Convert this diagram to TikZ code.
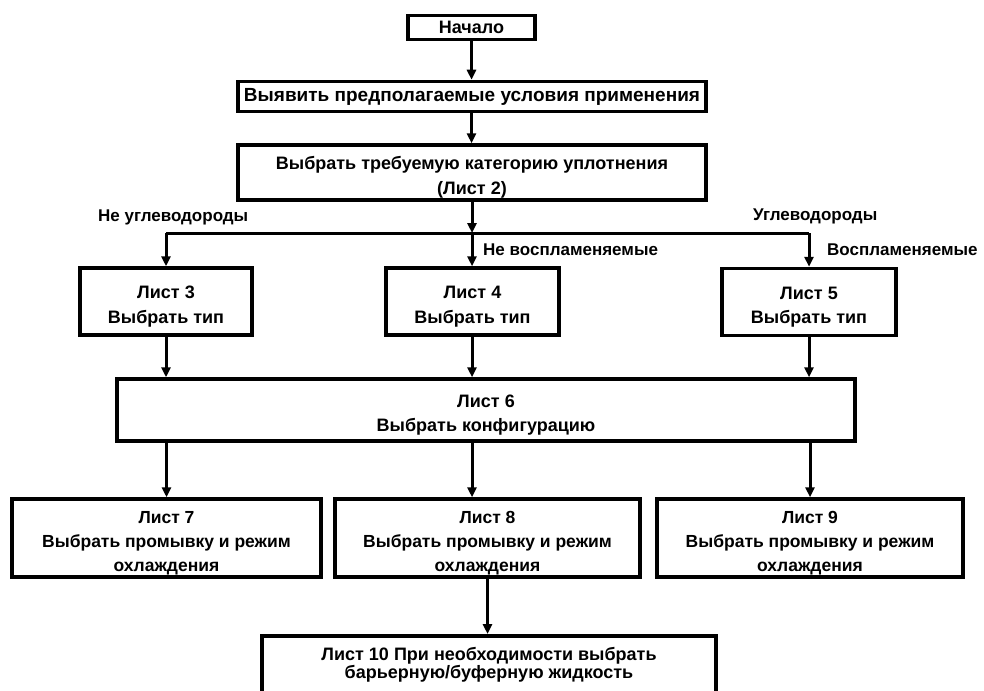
\documentclass[tikz,border=0pt]{standalone}
\usepackage{fontspec}
\setmainfont{Liberation Sans}
\usetikzlibrary{arrows.meta}
\newcommand{\topgap}{\rule{0pt}{23pt}}
\newcommand{\botgap}{\rule[-10pt]{0pt}{10pt}}
\begin{document}
\begin{tikzpicture}[x=1pt,y=-1pt,
  box/.style={draw=black,line width=3.5pt,fill=white,inner sep=0pt,align=center,
    font=\fontsize{18}{24.5}\selectfont\bfseries},
  lbl/.style={inner sep=0pt,anchor=west,font=\fontsize{17}{20}\selectfont\bfseries},
  conn/.style={line width=3pt,-{Triangle[length=10pt,width=9pt]}},
  plain/.style={line width=3pt}]
\useasboundingbox (0,0) rectangle (984,690);
\node[box,minimum width=127pt,minimum height=24pt] (start) at (471.5,27.5) {Начало};
\node[box,minimum width=468pt,minimum height=30pt,font=\fontsize{19}{24}\selectfont\bfseries] (b2) at (472,96.5) {Выявить предполагаемые условия применения};
\node[box,minimum width=468pt,minimum height=55pt] (b3) at (472,172.5) {\topgap Выбрать требуемую категорию уплотнения\\(Лист 2)};
\node[box,minimum width=172pt,minimum height=67pt] (l3) at (166,301.5) {\topgap Лист 3\\Выбрать тип};
\node[box,minimum width=173pt,minimum height=67pt] (l4) at (472.5,301.5) {\topgap Лист 4\\Выбрать тип};
\node[box,minimum width=174pt,minimum height=67pt] (l5) at (809,302) {\topgap Лист 5\\Выбрать тип};
\node[box,minimum width=738pt,minimum height=62pt] (l6) at (486,410) {\topgap Лист 6\\Выбрать конфигурацию};
\tikzset{box3/.style={box,minimum height=78pt,font=\fontsize{17.5}{24}\selectfont\bfseries}}
\node[box3,minimum width=309pt] (l7) at (166.5,538) {\topgap Лист 7\\Выбрать промывку и режим\\охлаждения};
\node[box3,minimum width=305pt] (l8) at (487.5,538) {\topgap Лист 8\\Выбрать промывку и режим\\охлаждения};
\node[box3,minimum width=306pt] (l9) at (810,538) {\topgap Лист 9\\Выбрать промывку и режим\\охлаждения};
\node[box,minimum width=454pt,minimum height=64pt,anchor=north,
  font=\fontsize{18}{18.5}\selectfont\bfseries] (l10) at (489,634) {Лист 10 При необходимости выбрать\\барьерную/буферную жидкость\botgap};
\coordinate (br) at (472,233);
\node[lbl] (t1) at (98,217) {Не углеводороды};
\node[lbl] (t2) at (753,216) {Углеводороды};
\node[lbl] (t3) at (483,250) {Не воспламеняемые};
\node[lbl] (t4) at (827,250) {Воспламеняемые};
\draw[conn] (start.south) -- (start.south |- b2.north);
\draw[conn] (b2.south -| start.south) -- (start.south |- b3.north);
\draw[conn] (b3.south -| br) -- (br);
\draw[plain] (l3.north |- br) -- (l5.north |- br);
\draw[conn] (l3.north |- br) -- (l3.north);
\draw[conn] (br) -- (br |- l4.north);
\draw[conn] (l5.north |- br) -- (l5.north);
\draw[conn] (l3.south) -- (l3.south |- l6.north);
\draw[conn] (l4.south -| br) -- (br |- l6.north);
\draw[conn] (l5.south) -- (l5.south |- l6.north);
\draw[conn] (l6.south -| l7.north) -- (l7.north);
\draw[conn] (l6.south -| br) -- (br |- l8.north);
\draw[conn] (l6.south -| l9.north) -- (l9.north);
\draw[conn] (l8.south) -- (l8.south |- l10.north);
\end{tikzpicture}
\end{document}
